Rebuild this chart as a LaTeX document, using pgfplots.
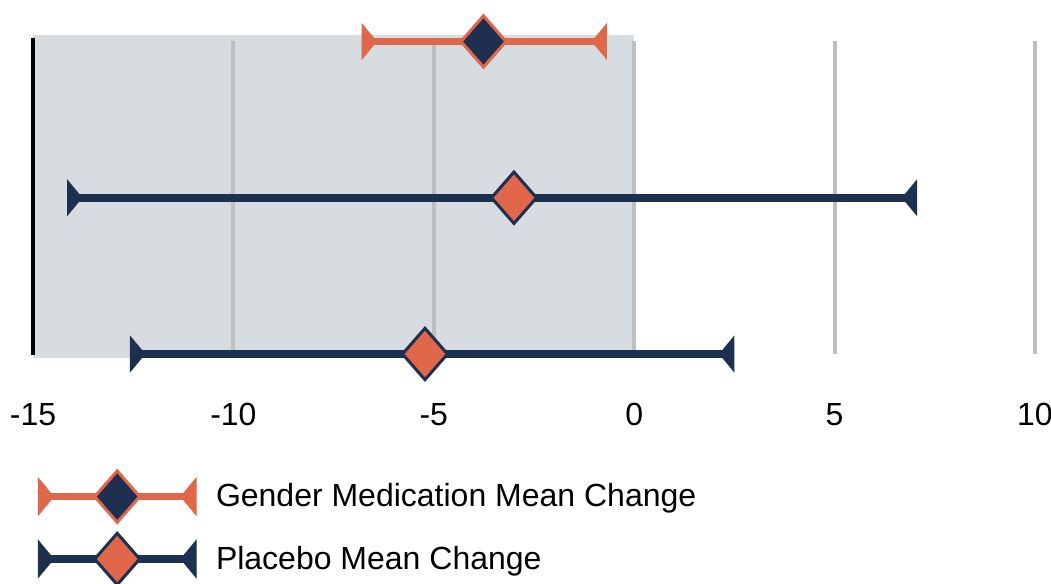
\documentclass[border=0pt]{standalone}
\usepackage{fontspec}
\setmainfont{Liberation Sans}
\usepackage{pgfplots}
\pgfplotsset{compat=1.18}
\definecolor{cOr}{HTML}{E0674A}
\definecolor{cNv}{HTML}{1E3050}
\definecolor{cSh}{HTML}{D7DCE1}
\definecolor{cGr}{HTML}{BFBFBF}

\pgfdeclareplotmark{ltri}{%
  \pgfpathmoveto{\pgfqpoint{0pt}{9.3pt}}%
  \pgfpathlineto{\pgfqpoint{7.7pt}{0pt}}%
  \pgfpathlineto{\pgfqpoint{0pt}{-9.3pt}}%
  \pgfpathclose\pgfusepathqfill}
\pgfdeclareplotmark{rtri}{%
  \pgfpathmoveto{\pgfqpoint{0pt}{9.3pt}}%
  \pgfpathlineto{\pgfqpoint{-7.7pt}{0pt}}%
  \pgfpathlineto{\pgfqpoint{0pt}{-9.3pt}}%
  \pgfpathclose\pgfusepathqfill}
\pgfdeclareplotmark{dmd}{%
  \pgfpathmoveto{\pgfqpoint{0pt}{12.85pt}}%
  \pgfpathlineto{\pgfqpoint{11.25pt}{0pt}}%
  \pgfpathlineto{\pgfqpoint{0pt}{-12.85pt}}%
  \pgfpathlineto{\pgfqpoint{-11.25pt}{0pt}}%
  \pgfpathclose\pgfusepathqfillstroke}

\newcommand{\legimg}[2]{%
  \draw[#1, line width=3.8pt] (0pt,0pt) -- (79pt,0pt);
  \fill[#1] (0pt,9.3pt) -- (7.7pt,0pt) -- (0pt,-9.3pt) -- cycle;
  \fill[#1] (79pt,9.3pt) -- (71.3pt,0pt) -- (79pt,-9.3pt) -- cycle;
  \draw[#1, fill=#2, line width=1.5pt] (39.5pt,12.85pt) -- (50.75pt,0pt) -- (39.5pt,-12.85pt) -- (28.25pt,0pt) -- cycle;
}

\begin{document}
\begin{tikzpicture}
\begin{axis}[
  set layers,
  scale only axis,
  width=501pt, height=156.25pt,
  xmin=-15, xmax=10, ymin=0, ymax=2,
  clip=false,
  axis line style={draw=none},
  major tick length=0pt,
  ytick=\empty,
  xtick={-15,-10,-5,0,5,10},
  xticklabels={{-15},{-10},{-5},0,5,10},
  xticklabel style={anchor=base, yshift=-35.5pt, font=\fontsize{16}{19}\selectfont},
  xmajorgrids,
  grid style={cGr, line width=2pt},
  legend style={at={(0.001,-0.368)}, anchor=north west, draw=none, fill=none,
    inner sep=0pt, row sep=4pt, column sep=8pt,
    font=\fontsize{16}{19}\selectfont, nodes={inner sep=0pt}},
  legend cell align=left,
]
\coordinate (BL) at (rel axis cs:0,0);
\coordinate (TR) at (rel axis cs:1,1);
% shaded band
\addplot[on layer=axis background, fill=cSh, draw=none, forget plot]
  coordinates {(-15,-0.026) (0,-0.026) (0,2.04) (-15,2.04)} -- cycle;
% black left line
\addplot[black, line width=2pt, forget plot] coordinates {(-15,-0.007) (-15,2.02)};
% ranges
\addplot[cOr, line width=3.8pt, forget plot] coordinates {(-6.80,2) (-0.68,2)};
\addplot[cNv, line width=3.8pt, forget plot] coordinates {(-14.15,1) (7.06,1)};
\addplot[cNv, line width=3.8pt, forget plot] coordinates {(-12.58,0) (2.50,0)};
% end marks
\addplot[only marks, mark=ltri, cOr, forget plot] coordinates {(-6.80,2)};
\addplot[only marks, mark=rtri, cOr, forget plot] coordinates {(-0.68,2)};
\addplot[only marks, mark=ltri, cNv, forget plot] coordinates {(-14.15,1) (-12.58,0)};
\addplot[only marks, mark=rtri, cNv, forget plot] coordinates {(7.06,1) (2.50,0)};
% means
\addplot[only marks, mark=dmd, mark options={draw=cOr, fill=cNv, line width=1.5pt}, forget plot] coordinates {(-3.76,2)};
\addplot[only marks, mark=dmd, mark options={draw=cNv, fill=cOr, line width=1.5pt}, forget plot] coordinates {(-3.0,1) (-5.22,0)};
% legend
\addlegendimage{legend image code/.code={\legimg{cOr}{cNv}}}
\addlegendentry{Gender Medication Mean Change}
\addlegendimage{legend image code/.code={\legimg{cNv}{cOr}}}
\addlegendentry{Placebo Mean Change}
\end{axis}
\pgfresetboundingbox
\path ([xshift=-16.5pt,yshift=-115pt]BL) rectangle ([xshift=8pt,yshift=20.75pt]TR);
\end{tikzpicture}
\end{document}
